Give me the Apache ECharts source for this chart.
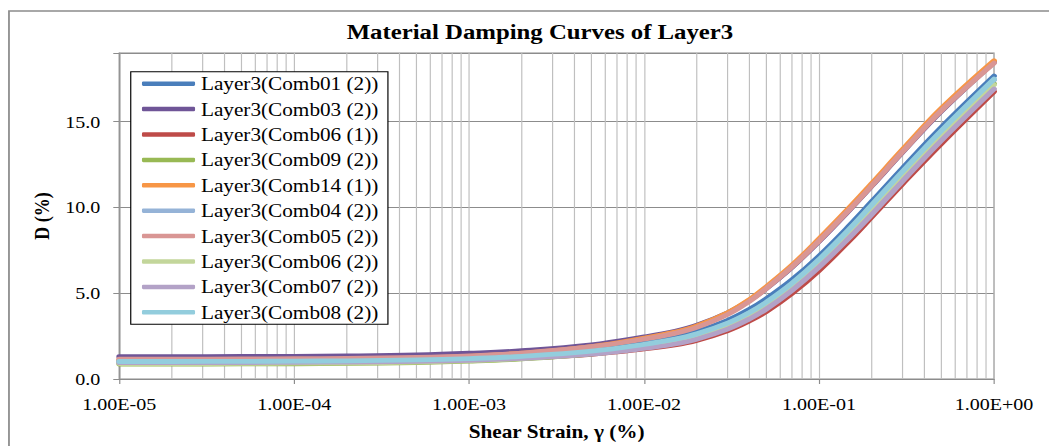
<!DOCTYPE html>
<html>
<head>
<meta charset="utf-8">
<script src="https://cdn.jsdelivr.net/npm/echarts@6/dist/echarts.min.js"></script>
<style>
  html, body { margin: 0; padding: 0; background: #fff; overflow: hidden; }
  /* the chart is laid out narrower and widened horizontally, like the original sheet graphic */
  #main { width: 889px; height: 446px; transform: scaleX(1.18); transform-origin: 0 0; }
</style>
</head>
<body>
<div id="main"></div>
<script>
// Shear strain (%) at which each damping curve is tabulated
const strains = [1e-5, 2e-5, 5e-5, 1e-4, 2e-4, 5e-4, 1e-3, 2e-3, 5e-3, 1e-2, 1.5e-2, 2e-2, 3e-2, 4e-2, 5e-2, 7e-2, 0.1, 0.15, 0.2, 0.3, 0.5, 1.0];

// Material damping D (%) per combination
const comb01_2 = [1.05, 1.05, 1.06, 1.07, 1.09, 1.14, 1.23, 1.37, 1.69, 2.12, 2.44, 2.77, 3.42, 4.06, 4.68, 5.78, 7.17, 8.97, 10.34, 12.29, 14.67, 17.65];
const comb03_2 = [1.30, 1.30, 1.31, 1.32, 1.34, 1.40, 1.50, 1.65, 1.99, 2.45, 2.78, 3.13, 3.86, 4.58, 5.28, 6.51, 8.02, 9.87, 11.24, 13.21, 15.61, 18.46];
const comb06_1 = [0.98, 0.98, 0.99, 1.00, 1.02, 1.06, 1.11, 1.21, 1.44, 1.75, 1.99, 2.25, 2.81, 3.38, 3.93, 4.98, 6.32, 8.09, 9.44, 11.37, 13.72, 16.75];
const comb09_2 = [0.87, 0.87, 0.88, 0.89, 0.91, 0.96, 1.04, 1.17, 1.46, 1.85, 2.14, 2.45, 3.07, 3.68, 4.28, 5.36, 6.72, 8.49, 9.84, 11.79, 14.17, 17.20];
const comb14_1 = [1.12, 1.12, 1.13, 1.14, 1.16, 1.22, 1.32, 1.50, 1.89, 2.38, 2.73, 3.09, 3.86, 4.63, 5.38, 6.63, 8.17, 10.02, 11.39, 13.37, 15.77, 18.55];
const comb04_2 = [1.00, 1.00, 1.01, 1.02, 1.04, 1.09, 1.17, 1.30, 1.60, 1.98, 2.28, 2.59, 3.22, 3.84, 4.44, 5.54, 6.92, 8.72, 10.09, 12.04, 14.42, 17.43];
const comb05_2 = [1.16, 1.16, 1.17, 1.18, 1.20, 1.26, 1.35, 1.51, 1.88, 2.32, 2.66, 3.01, 3.76, 4.53, 5.28, 6.53, 8.05, 9.89, 11.26, 13.24, 15.64, 18.41];
const comb06_2 = [0.90, 0.90, 0.91, 0.92, 0.94, 0.99, 1.07, 1.20, 1.49, 1.86, 2.14, 2.43, 3.04, 3.65, 4.25, 5.32, 6.67, 8.44, 9.81, 11.76, 14.14, 17.15];
const comb07_2 = [0.95, 0.95, 0.96, 0.97, 0.99, 1.03, 1.09, 1.20, 1.45, 1.78, 2.04, 2.32, 2.91, 3.50, 4.08, 5.16, 6.52, 8.27, 9.59, 11.53, 13.90, 16.90];
const comb08_2 = [1.02, 1.02, 1.03, 1.04, 1.06, 1.11, 1.19, 1.32, 1.62, 2.02, 2.32, 2.63, 3.26, 3.88, 4.48, 5.58, 6.97, 8.77, 10.14, 12.09, 14.47, 17.48];

const seriesNames = [
  'Layer3(Comb01 (2))', 'Layer3(Comb03 (2))', 'Layer3(Comb06 (1))', 'Layer3(Comb09 (2))', 'Layer3(Comb14 (1))',
  'Layer3(Comb04 (2))', 'Layer3(Comb05 (2))', 'Layer3(Comb06 (2))', 'Layer3(Comb07 (2))', 'Layer3(Comb08 (2))'
];
const seriesValues = [comb01_2, comb03_2, comb06_1, comb09_2, comb14_1, comb04_2, comb05_2, comb06_2, comb07_2, comb08_2];
const seriesColors = ['#4A7EBB', '#6F5597', '#BE4B48', '#98B954', '#F79646', '#95B3D7', '#D99694', '#C3D69B', '#B3A2C7', '#93CDDD'];

// log-axis decades and the 2..9 multiples between them
const decades = [1e-5, 1e-4, 1e-3, 1e-2, 1e-1];
const minorMultiples = [2, 3, 4, 5, 6, 7, 8, 9];
const D_MIN = 0, D_MAX = 19;

const FONT = 'Liberation Serif, Times New Roman, serif';

// minor vertical gridlines: one segment per minor value, separated by gaps
const minorGridData = [];
decades.forEach(d => minorMultiples.forEach(m => {
  const v = +(d * m).toPrecision(3);
  minorGridData.push([v, D_MIN], [v, D_MAX], [v, null]);
}));

function expLabel(v) {
  const e = Math.round(Math.log10(v));
  const m = v / Math.pow(10, e);
  return m.toFixed(2) + 'E' + (e < 0 ? '-' : '+') + String(Math.abs(e)).padStart(2, '0');
}

const series = [{
  name: 'minor-grid',
  type: 'line',
  data: minorGridData,
  z: 1,
  silent: true,
  showSymbol: false,
  connectNulls: false,
  lineStyle: { color: '#BFBFBF', width: 1 },
  emphasis: { disabled: true },
  animation: false
}];

seriesNames.forEach((name, i) => {
  series.push({
    name: name,
    type: 'line',
    z: 2 + i,
    data: strains.map((s, k) => [s, seriesValues[i][k]]),
    showSymbol: false,
    smooth: 0.4,
    color: seriesColors[i],
    lineStyle: { width: 4.8, color: seriesColors[i], cap: 'round', join: 'round' },
    emphasis: { disabled: true },
    animation: false
  });
});

const chart = echarts.init(document.getElementById('main'), null, { renderer: 'svg' });
chart.setOption({
  backgroundColor: '#fff',
  animation: false,
  graphic: [
    {
      type: 'rect',
      shape: { x: 7.6, y: 11, width: 2000, height: 2000 },
      style: { fill: 'none', stroke: '#8C8C8C', lineWidth: 1.5 },
      silent: true,
      z: 0
    },
    {
      type: 'text',
      x: 457.6,
      y: 32,
      style: {
        text: 'Material Damping Curves of Layer3',
        font: 'bold 21px ' + FONT,
        fill: '#000',
        textAlign: 'center',
        textVerticalAlign: 'middle'
      },
      silent: true
    }
  ],
  grid: {
    left: 101, top: 53, width: 741.4, height: 327,
    show: true, borderColor: '#8C8C8C', borderWidth: 1, backgroundColor: 'transparent'
  },
  legend: {
    data: seriesNames,
    orient: 'vertical',
    left: 110.8,
    top: 71.7,
    icon: 'roundRect',
    itemWidth: 45,
    itemHeight: 4.5,
    itemGap: 7.4,
    padding: [3, 8, 3, 9.5],
    backgroundColor: '#fff',
    borderColor: '#000',
    borderWidth: 1,
    selectedMode: false,
    textStyle: { fontFamily: FONT, fontSize: 18, lineHeight: 18, color: '#000' }
  },
  xAxis: {
    type: 'log',
    logBase: 10,
    min: 1e-5,
    max: 1,
    splitNumber: 5,
    name: 'Shear Strain, γ (%)',
    nameLocation: 'middle',
    nameGap: 44,
    nameTextStyle: { fontFamily: FONT, fontWeight: 'bold', fontSize: 18, color: '#000' },
    axisLine: { show: true, lineStyle: { color: '#8C8C8C', width: 1 } },
    axisTick: { show: true, length: 5, lineStyle: { color: '#8C8C8C' } },
    splitLine: { show: true, lineStyle: { color: '#BFBFBF', width: 1 } },
    axisLabel: { margin: 17, fontFamily: FONT, fontSize: 17, color: '#000', formatter: expLabel }
  },
  yAxis: {
    type: 'value',
    min: D_MIN,
    max: D_MAX,
    interval: 5,
    name: 'D (%)',
    nameLocation: 'middle',
    nameGap: 54,
    nameTextStyle: { fontFamily: FONT, fontWeight: 'bold', fontSize: 18, color: '#000' },
    axisLine: { show: true, lineStyle: { color: '#8C8C8C', width: 1 } },
    axisTick: { show: true, length: 5, lineStyle: { color: '#8C8C8C' } },
    splitLine: { show: true, lineStyle: { color: '#8C8C8C', width: 1 } },
    axisLabel: {
      margin: 16, fontFamily: FONT, fontSize: 17, color: '#000',
      formatter: v => (v % 5 === 0 ? v.toFixed(1) : '')
    }
  },
  series: series
});
</script>
</body>
</html>
